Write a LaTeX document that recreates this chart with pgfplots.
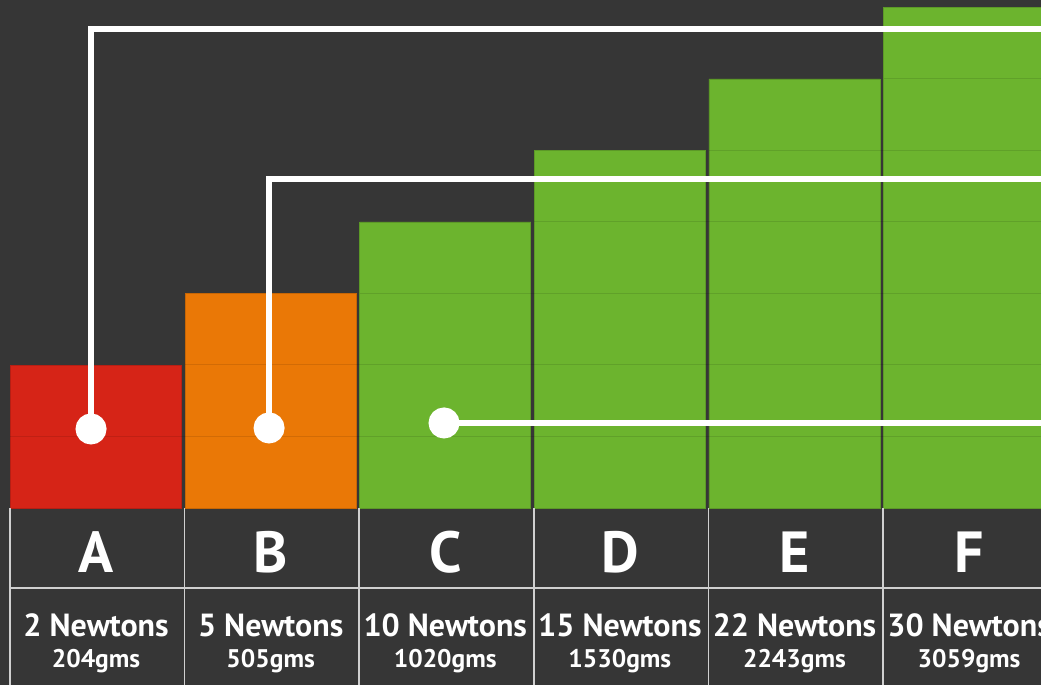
\documentclass[border=0pt]{standalone}
\usepackage{fontspec}
\setmainfont{PT Sans}
\usepackage{pgfplots}
\pgfplotsset{compat=1.18}
\definecolor{bg}{HTML}{363636}
\definecolor{cA}{HTML}{D62417}
\definecolor{cB}{HTML}{EA7806}
\definecolor{cC}{HTML}{6CB42E}
\definecolor{tl}{HTML}{D0D0D0}
\begin{document}
\begin{tikzpicture}
\begin{axis}[
 scale only axis, width=1041pt, height=685pt,
 xmin=-0.55, xmax=5.412, ymin=-2.476, ymax=7.105,
 axis background/.style={fill=bg},
 axis line style={draw=none},
 ytick=\empty,
 xtick={0,...,5}, xticklabels={A,B,C,D,E,F},
 major tick length=0pt,
 x tick label style={anchor=base, yshift=112pt, text=white, font=\fontsize{58}{58}\selectfont\bfseries},
 axis on top,
]
\addplot[ybar, bar width=0.98, bar shift=0pt, fill=cA, draw=cA!85!black, line width=0.8pt] coordinates {(0,2)};
\addplot[ybar, bar width=0.98, bar shift=0pt, fill=cB, draw=cB!85!black, line width=0.8pt] coordinates {(1,3)};
\addplot[ybar, bar width=0.98, bar shift=0pt, fill=cC, draw=cC!85!black, line width=0.8pt] coordinates {(2,4) (3,5) (4,6) (5,7)};
% faint grid (visible across the bars)
\draw[black, opacity=0.1, line width=1pt] (axis cs:-0.49,1) -- (axis cs:5.6,1);
\draw[black, opacity=0.1, line width=1pt] (axis cs:0.51,2) -- (axis cs:5.6,2);
\draw[black, opacity=0.1, line width=1pt] (axis cs:1.51,3) -- (axis cs:5.6,3);
\draw[black, opacity=0.1, line width=1pt] (axis cs:2.51,4) -- (axis cs:5.6,4);
\draw[black, opacity=0.1, line width=1pt] (axis cs:3.51,5) -- (axis cs:5.6,5);
\draw[black, opacity=0.1, line width=1pt] (axis cs:4.51,6) -- (axis cs:5.6,6);
% connector lines
\addplot[white, line width=6pt, mark=*, mark indices={1}, mark size=12.5pt, mark options={draw=none, fill=white}] coordinates {(-0.0286,1.105) (-0.0286,6.699) (5.6,6.699)};
\addplot[white, line width=6pt, mark=*, mark indices={1}, mark size=12.5pt, mark options={draw=none, fill=white}] coordinates {(0.991,1.119) (0.991,4.601) (5.6,4.601)};
\addplot[white, line width=6pt, mark=*, mark indices={1}, mark size=12.5pt, mark options={draw=none, fill=white}] coordinates {(1.993,1.189) (5.6,1.189)};
% table lines
\draw[tl, line width=1.5pt] (axis cs:-0.4926,-1.119) -- (axis cs:5.6,-1.119);
\draw[tl, line width=1.5pt] (axis cs:-0.4926,0) -- (axis cs:-0.4926,-2.6);
\draw[tl, line width=1.5pt] (axis cs:0.5074,0) -- (axis cs:0.5074,-2.6);
\draw[tl, line width=1.5pt] (axis cs:1.5074,0) -- (axis cs:1.5074,-2.6);
\draw[tl, line width=1.5pt] (axis cs:2.5074,0) -- (axis cs:2.5074,-2.6);
\draw[tl, line width=1.5pt] (axis cs:3.5074,0) -- (axis cs:3.5074,-2.6);
\draw[tl, line width=1.5pt] (axis cs:4.5074,0) -- (axis cs:4.5074,-2.6);
\begin{scope}[every node/.style={text=white, anchor=base}]
\node[font=\fontsize{32}{32}\selectfont\bfseries] at (axis cs:0,-1.804) {2 Newtons};
\node[font=\fontsize{32}{32}\selectfont\bfseries] at (axis cs:1,-1.804) {5 Newtons};
\node[font=\fontsize{32}{32}\selectfont\bfseries] at (axis cs:2,-1.804) {10 Newtons};
\node[font=\fontsize{32}{32}\selectfont\bfseries] at (axis cs:3,-1.804) {15 Newtons};
\node[font=\fontsize{32}{32}\selectfont\bfseries] at (axis cs:4,-1.804) {22 Newtons};
\node[font=\fontsize{32}{32}\selectfont\bfseries] at (axis cs:5,-1.804) {30 Newtons};
\node[font=\fontsize{25.5}{25.5}\selectfont\bfseries] at (axis cs:0,-2.238) {204gms};
\node[font=\fontsize{25.5}{25.5}\selectfont\bfseries] at (axis cs:1,-2.238) {505gms};
\node[font=\fontsize{25.5}{25.5}\selectfont\bfseries] at (axis cs:2,-2.238) {1020gms};
\node[font=\fontsize{25.5}{25.5}\selectfont\bfseries] at (axis cs:3,-2.238) {1530gms};
\node[font=\fontsize{25.5}{25.5}\selectfont\bfseries] at (axis cs:4,-2.238) {2243gms};
\node[font=\fontsize{25.5}{25.5}\selectfont\bfseries] at (axis cs:5,-2.238) {3059gms};
\end{scope}
\end{axis}
\pgfresetboundingbox
\useasboundingbox (current axis.south west) rectangle (current axis.north east);
\end{tikzpicture}
\end{document}
